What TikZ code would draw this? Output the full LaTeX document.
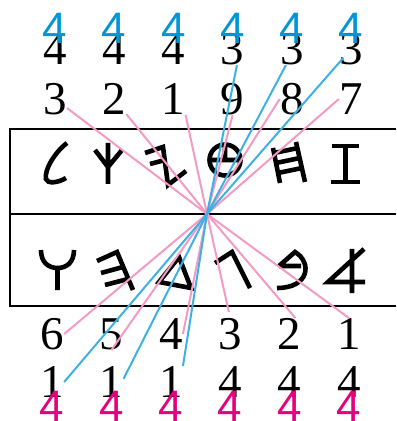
\documentclass[tikz,border=0pt]{standalone}
\usepackage{fontspec}
\setmainfont{Liberation Serif}
\newfontfamily\sansfour{Liberation Sans}
\definecolor{rosa}{HTML}{F39BC2}
\definecolor{himmel}{HTML}{3DB1E3}
\definecolor{cyanfour}{HTML}{0096D6}
\definecolor{magfour}{HTML}{E4007F}
\tikzstyle{num}=[inner sep=0pt, font=\fontsize{23.5}{28}\selectfont]
\tikzstyle{bluefour}=[inner sep=0pt, text=cyanfour, font=\sansfour\fontsize{22}{26}\selectfont]
\tikzstyle{pinkfour}=[inner sep=0pt, text=magfour, font=\sansfour\fontsize{22}{26}\selectfont]
\tikzstyle{glyph}=[line width=2.3pt]
\tikzstyle{frame}=[line width=1.4pt]
\tikzstyle{pinkline}=[rosa, line width=1pt]
\tikzstyle{blueline}=[himmel, line width=1pt]

\begin{document}
\begin{tikzpicture}[x=0.5pt, y=-0.5pt]
				\useasboundingbox (0,0) rectangle (396,421);
				% frame
				\draw[frame] (396,129) -- (10,129) -- (10,306) -- (396,306);
				\draw[frame] (10,214) -- (396,214);
				\coordinate (ctr) at (207,214);
				% upper numbers
				\node[num] (h1) at (55,49) {4};
				\node[num] (h2) at (114.2,49) {4};
				\node[num] (h3) at (173.4,49) {4};
				\node[num] (h4) at (232.6,49) {3};
				\node[num] (h5) at (291.8,49) {3};
				\node[num] (h6) at (351,49) {3};
				\node[num] (u1) at (55,99) {3};
				\node[num] (u2) at (114.2,99) {2};
				\node[num] (u3) at (173.4,99) {1};
				\node[num] (u4) at (232.6,99) {9};
				\node[num] (u5) at (291.8,99) {8};
				\node[num] (u6) at (351,99) {7};
				\node[bluefour] (q1) at (55,28) {4};
				\node[bluefour] (q2) at (114.2,28) {4};
				\node[bluefour] (q3) at (173.4,28) {4};
				\node[bluefour] (q4) at (232.6,28) {4};
				\node[bluefour] (q5) at (291.8,28) {4};
				\node[bluefour] (q6) at (351,28) {4};
				% lower numbers
				\node[num] (v1) at (52,334) {6};
				\node[num] (v2) at (111.4,334) {5};
				\node[num] (v3) at (170.8,334) {4};
				\node[num] (v4) at (230.2,334) {3};
				\node[num] (v5) at (289.6,334) {2};
				\node[num] (v6) at (349,334) {1};
				\node[num] (w1) at (52,382) {1};
				\node[num] (w2) at (111.4,382) {1};
				\node[num] (w3) at (170.8,382) {1};
				\node[num] (w4) at (230.2,382) {4};
				\node[num] (w5) at (289.6,382) {4};
				\node[num] (w6) at (349,382) {4};
				\node[pinkfour] (p1) at (52,406) {4};
				\node[pinkfour] (p2) at (111.4,406) {4};
				\node[pinkfour] (p3) at (170.8,406) {4};
				\node[pinkfour] (p4) at (230.2,406) {4};
				\node[pinkfour] (p5) at (289.6,406) {4};
				\node[pinkfour] (p6) at (349,406) {4};
				% upper letters
				\draw[glyph] (67,143) .. controls (55,152) and (44,170) .. (46,179) .. controls (47,184) and (58,183) .. (66,178);
				\draw[glyph] (108,143) -- (108,184) (95,150) -- (108,167) -- (122,150);
				\draw[glyph] (145,153) -- (163,147) -- (168,185) -- (186,171) (150,164) -- (165,160);
				\draw[glyph] (225,160) circle[radius=7.75pt] (209.5,160) -- (240.5,160) (225,144.5) -- (225,160);
				\draw[glyph] (273,148) -- (280,183) (296,142) -- (305,182) (274,153) -- (298,148) (276,163) -- (300,158) (278,173) -- (302,168);
				\draw[glyph] (332,146) -- (359,146) (345.5,146) -- (345.5,182) (331,182) -- (360,182);
				% lower letters
				\draw[glyph] (41,250) .. controls (41,262) and (48,268) .. (57.5,268) .. controls (67,268) and (74,262) .. (74,250) (57.5,268) -- (57.5,290);
				\draw[glyph] (97,261) -- (117,252) -- (133,290) (101,273) -- (123,267) (105,285) -- (128,279);
				\draw[glyph] (179,257) -- (159,282) -- (191,288) -- cycle;
				\draw[glyph] (215,263) -- (232,252) -- (250,288);
				\draw[glyph] (279,266) -- (301,266) (279,266) -- (295,252) .. controls (312,262) and (310,288) .. (277,288);
				\draw[glyph] (352,249) -- (352,293) (364,249) -- (328,282) -- (365,282);
				% connectors
				\draw[pinkline] (ctr) -- (u1);
				\draw[pinkline] (ctr) -- (u2);
				\draw[pinkline] (ctr) -- (u3.south east);
				\draw[pinkline] (ctr) -- (u4.south);
				\draw[pinkline] (ctr) -- (u5.west);
				\draw[pinkline] (ctr) -- (u6.west);
				\draw[pinkline] (ctr) -- (v1.east);
				\draw[pinkline] (ctr) -- (v2.south);
				\draw[pinkline] (ctr) -- (v3.east);
				\draw[pinkline, shorten >=3pt] (ctr) -- (v4.north);
				\draw[pinkline] (ctr) -- (v5.70);
				\draw[pinkline] (ctr) -- (v6.north);
				\draw[blueline] (ctr) -- (h4.-75);
				\draw[blueline] (ctr) -- (h5.-110);
				\draw[blueline, shorten >=-3.5pt] (ctr) -- (h6.-131);
				\draw[blueline] (ctr) -- (w1.east);
				\draw[blueline] (ctr) -- (w2.15);
				\draw[blueline] (ctr) -- (w3.north east);
			\end{tikzpicture}
\end{document}
